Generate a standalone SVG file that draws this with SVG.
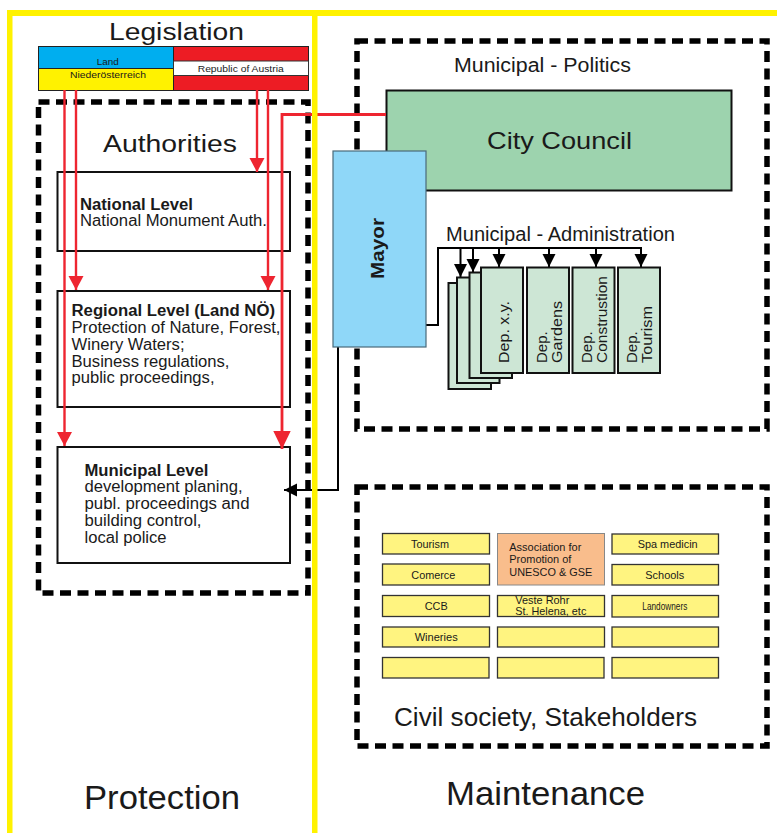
<svg xmlns="http://www.w3.org/2000/svg" width="777" height="833" viewBox="0 0 777 833">
<style>
text{font-family:"Liberation Sans",Arial,sans-serif;fill:#1a1a1a}
.dash{fill:none;stroke:#000;stroke-width:5.5;stroke-dasharray:11 6.5}
.lvl{fill:#fff;stroke:#111;stroke-width:2}
.dep{fill:#cde6d5;stroke:#111;stroke-width:2}
.yb{fill:#fff480;stroke:#333;stroke-width:1.3}
.red{fill:none;stroke:#ee2530;stroke-width:2.4}
.blk{fill:none;stroke:#000;stroke-width:2}
.s{font-size:11px}
.m{font-size:16px}
.b{font-size:16px;font-weight:bold}
.d{font-size:15px}
</style>
<defs>
<marker id="ah" markerUnits="userSpaceOnUse" markerWidth="14" markerHeight="14" refX="13" refY="7" orient="auto"><path d="M0 0.5L13 7L0 13.5z" fill="#000"/></marker>
<marker id="rh" markerUnits="userSpaceOnUse" markerWidth="14" markerHeight="16" refX="14" refY="8" orient="auto"><path d="M0 0.5L14 8L0 15.5z" fill="#ee2530"/></marker>
<marker id="rb" markerUnits="userSpaceOnUse" markerWidth="18" markerHeight="18" refX="18" refY="9" orient="auto"><path d="M0 0.3L18 9L0 17.7z" fill="#ee2530"/></marker>
</defs>
<rect width="777" height="833" fill="#fff"/>
<g id="authorities-frame"><rect class="dash" x="38.5" y="102" width="269.500" height="491"/><text x="103" y="152" font-size="23.500" textLength="134" lengthAdjust="spacingAndGlyphs">Authorities</text></g>
<g id="politics-frame"><rect class="dash" x="357" y="41" width="410" height="388"/><text x="454" y="72" font-size="19.500" textLength="177" lengthAdjust="spacingAndGlyphs">Municipal - Politics</text></g>
<g id="stakeholders-frame"><rect class="dash" x="357" y="487" width="410" height="259"/><text x="394" y="726" font-size="26" textLength="303" lengthAdjust="spacingAndGlyphs">Civil society, Stakeholders</text></g>
<g id="legislation"><text x="109" y="40" font-size="23.500" textLength="135" lengthAdjust="spacingAndGlyphs">Legislation</text></g>
<g id="land">
<rect x="38.500" y="46.500" width="135" height="22" fill="#00aeef" stroke="#222" stroke-width="1"/>
<rect x="38.500" y="68.500" width="135" height="22" fill="#fff200" stroke="#222" stroke-width="1"/>
<text x="96.700" y="65" font-size="9.500" textLength="22" lengthAdjust="spacingAndGlyphs">Land</text>
<text x="70" y="78" font-size="9.500" textLength="76" lengthAdjust="spacingAndGlyphs">Niederösterreich</text>
</g>
<g id="austria">
<rect x="173.500" y="46.500" width="135" height="44" fill="#ed1c24" stroke="#222" stroke-width="1"/>
<rect x="173.500" y="61" width="135" height="14.500" fill="#fff" stroke="#333" stroke-width="1"/>
<text x="197.700" y="71.500" font-size="9.500" textLength="86" lengthAdjust="spacingAndGlyphs">Republic of Austria</text>
</g>
<g id="national"><rect class="lvl" x="57.500" y="172" width="232.500" height="79"/>
<text x="80" y="210" class="b" textLength="113" lengthAdjust="spacingAndGlyphs">National Level</text>
<text x="80" y="226" class="m" textLength="187" lengthAdjust="spacingAndGlyphs">National Monument Auth.</text></g>
<g id="regional"><rect class="lvl" x="57.500" y="291" width="232.500" height="116"/>
<text x="71.500" y="316" class="b" textLength="203.500" lengthAdjust="spacingAndGlyphs">Regional Level (Land NÖ)</text>
<text x="71.500" y="333" class="m" textLength="209" lengthAdjust="spacingAndGlyphs">Protection of Nature, Forest,</text>
<text x="71.500" y="350" class="m" textLength="113" lengthAdjust="spacingAndGlyphs">Winery Waters;</text>
<text x="71.500" y="367" class="m" textLength="158" lengthAdjust="spacingAndGlyphs">Business regulations,</text>
<text x="71.500" y="383" class="m" textLength="143" lengthAdjust="spacingAndGlyphs">public proceedings,</text></g>
<g id="municipal"><rect class="lvl" x="57.500" y="447" width="232.500" height="116"/>
<text x="84.500" y="475.500" class="b" textLength="124" lengthAdjust="spacingAndGlyphs">Municipal Level</text>
<text x="84.500" y="491.500" class="m" textLength="158" lengthAdjust="spacingAndGlyphs">development planing,</text>
<text x="84.500" y="508.500" class="m" textLength="165" lengthAdjust="spacingAndGlyphs">publ. proceedings and</text>
<text x="84.500" y="525.500" class="m" textLength="117" lengthAdjust="spacingAndGlyphs">building control,</text>
<text x="84.500" y="542.500" class="m" textLength="82" lengthAdjust="spacingAndGlyphs">local police</text></g>
<g id="city-council"><rect x="386.500" y="90.500" width="345" height="100" fill="#9dd3ae" stroke="#111" stroke-width="2"/>
<text x="487" y="149" font-size="24" textLength="145" lengthAdjust="spacingAndGlyphs">City Council</text></g>
<g id="administration"><text x="446" y="241" font-size="19.500" textLength="229" lengthAdjust="spacingAndGlyphs">Municipal - Administration</text></g>
<g id="connectors">
<path class="red" d="M64.500 90V446" marker-end="url(#rh)"/>
<path class="red" d="M76 90V290" marker-end="url(#rh)"/>
<path class="red" d="M257 90V172" marker-end="url(#rh)"/>
<path class="red" d="M268 90V290" marker-end="url(#rh)"/>
<path class="red" style="stroke-width:2.800" d="M386 114.500H282V449" marker-end="url(#rb)"/>
<path class="blk" d="M426 325H438V248H642"/>
<path class="blk" d="M460.500 248V277" marker-end="url(#ah)"/>
<path class="blk" d="M473 248V272" marker-end="url(#ah)"/>
<path class="blk" d="M499 248V267" marker-end="url(#ah)"/>
<path class="blk" d="M549 248V267" marker-end="url(#ah)"/>
<path class="blk" d="M596 248V267" marker-end="url(#ah)"/>
<path class="blk" d="M641 248V267" marker-end="url(#ah)"/>
<path class="blk" d="M338 347V490H284" marker-end="url(#ah)"/>
</g>
<g id="mayor"><rect x="333" y="151" width="93" height="196" fill="#8fd7f8" stroke="#4a6a7a" stroke-width="1.200"/>
<text transform="translate(384,279) rotate(-90)" font-size="18.500" font-weight="bold" textLength="61" lengthAdjust="spacingAndGlyphs">Mayor</text></g>
<g id="dep-stack"><rect class="dep" x="448.500" y="283" width="42.500" height="106"/><rect class="dep" x="457" y="277.500" width="42.500" height="105.500"/><rect class="dep" x="469.500" y="272.500" width="42.500" height="105.500"/></g>
<g id="dep-xy"><rect class="dep" x="481" y="267.500" width="42" height="105.500"/><text transform="translate(509,363) rotate(-90)" class="d" textLength="62" lengthAdjust="spacingAndGlyphs">Dep. x.y.</text></g>
<g id="dep-gardens"><rect class="dep" x="527" y="267.500" width="42" height="105.500"/><text transform="translate(547,363) rotate(-90)" class="d">Dep.</text><text transform="translate(562,363) rotate(-90)" class="d" textLength="62" lengthAdjust="spacingAndGlyphs">Gardens</text></g>
<g id="dep-construction"><rect class="dep" x="572.500" y="267.500" width="42" height="105.500"/><text transform="translate(591.500,363) rotate(-90)" class="d">Dep.</text><text transform="translate(607,363) rotate(-90)" class="d" textLength="87" lengthAdjust="spacingAndGlyphs">Construstion</text></g>
<g id="dep-tourism"><rect class="dep" x="618" y="267.500" width="42" height="105.500"/><text transform="translate(637,363) rotate(-90)" class="d">Dep.</text><text transform="translate(652,363) rotate(-90)" class="d" textLength="57" lengthAdjust="spacingAndGlyphs">Tourism</text></g>
<g id="s-tourism"><rect class="yb" x="382.500" y="533.500" width="107" height="20.500"/><text x="411" y="548" class="s" textLength="38" lengthAdjust="spacingAndGlyphs">Tourism</text></g>
<g id="s-comerce"><rect class="yb" x="382.500" y="564" width="107" height="21"/><text x="411.300" y="579" class="s" textLength="44" lengthAdjust="spacingAndGlyphs">Comerce</text></g>
<g id="s-ccb"><rect class="yb" x="382.500" y="595.500" width="107" height="21"/><text x="424.700" y="610" class="s" textLength="23" lengthAdjust="spacingAndGlyphs">CCB</text></g>
<g id="s-wineries"><rect class="yb" x="382.500" y="627" width="107" height="20"/><text x="414.700" y="641" class="s" textLength="43" lengthAdjust="spacingAndGlyphs">Wineries</text></g>
<g id="s-r5c1"><rect class="yb" x="382.500" y="657.500" width="106.500" height="20.500"/></g>
<g id="s-association"><rect x="497.500" y="533.500" width="107" height="51.500" fill="#f9bd8c" stroke="#888" stroke-width="1"/>
<text x="509.300" y="551" class="s" textLength="72" lengthAdjust="spacingAndGlyphs">Association for</text><text x="509.300" y="563" class="s" textLength="62" lengthAdjust="spacingAndGlyphs">Promotion of</text><text x="509.300" y="576" class="s" textLength="83" lengthAdjust="spacingAndGlyphs">UNESCO &amp; GSE</text></g>
<g id="s-veste"><rect class="yb" x="497.500" y="595.500" width="107" height="21"/><text x="515.300" y="604" class="s" textLength="54" lengthAdjust="spacingAndGlyphs">Veste Rohr</text><text x="515.300" y="615" class="s" textLength="71" lengthAdjust="spacingAndGlyphs">St. Helena, etc</text></g>
<g id="s-r4c2"><rect class="yb" x="497.500" y="627" width="107" height="20"/></g>
<g id="s-r5c2"><rect class="yb" x="497.500" y="657.500" width="106.500" height="20.500"/></g>
<g id="s-spa"><rect class="yb" x="612" y="534" width="106.500" height="20"/><text x="637.700" y="548" class="s" textLength="60" lengthAdjust="spacingAndGlyphs">Spa medicin</text></g>
<g id="s-schools"><rect class="yb" x="612" y="564.500" width="106.500" height="20.500"/><text x="645.300" y="579" class="s" textLength="39" lengthAdjust="spacingAndGlyphs">Schools</text></g>
<g id="s-landowners"><rect class="yb" x="612" y="595.500" width="106.500" height="21.500"/><text x="642.300" y="610" class="s" textLength="45" lengthAdjust="spacingAndGlyphs">Landowners</text></g>
<g id="s-r4c3"><rect class="yb" x="612" y="627" width="106.500" height="20"/></g>
<g id="s-r5c3"><rect class="yb" x="612" y="657.500" width="106.500" height="20.500"/></g>
<g id="lanes" fill="#fff200">
<rect x="7" y="10" width="770" height="6"/><rect x="7" y="10" width="5.500" height="823"/><rect x="312" y="10" width="5.500" height="823"/>
</g>
<g id="lane-labels"><text x="84" y="808.500" font-size="33.500" textLength="156" lengthAdjust="spacingAndGlyphs">Protection</text><text x="446" y="805" font-size="33.500" textLength="199" lengthAdjust="spacingAndGlyphs">Maintenance</text></g>
</svg>
